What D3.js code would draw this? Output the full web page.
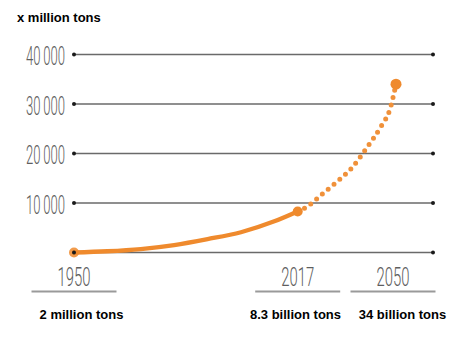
<!DOCTYPE html>
<html>
<head>
<meta charset="utf-8">
<script src="https://cdn.jsdelivr.net/npm/d3@7"></script>
<style>
  html, body { margin: 0; padding: 0; background: #fff; }
  svg { display: block; }
</style>
</head>
<body>
<div id="chart"></div>
<script>
// cumulative plastic production, million tons
const years = [1950, 1960, 1970, 1980, 1990, 2000, 2010, 2017];
const tons = [2, 250, 700, 1500, 2700, 4100, 6300, 8300];

// projection to 2050
const projYears = [2017, 2020, 2025, 2030, 2035, 2040, 2045, 2048, 2050];
const projTons = [8300, 9200, 11700, 14200, 17000, 21000, 25500, 29000, 34000];

const yTicks = [0, 10000, 20000, 30000, 40000];
const milestoneYears = [1950, 2017, 2050];
const milestoneTons = [2, 8300, 34000];
const milestoneLabels = ['2 million tons', '8.3 billion tons', '34 billion tons'];
const unitLabel = 'x million tons';

const width = 468, height = 340;
const orange = '#ef8a2d';
const gridRight = 433;

const svg = d3.select('#chart').append('svg')
    .attr('width', width)
    .attr('height', height);

const x = d3.scaleLinear()
    .domain([1950, 2017, 2050])
    .range([74, 297.7, 396]);

const y = d3.scaleLinear()
    .domain([0, 40000])
    .range([252.5, 54.5]);

const fmt = d3.formatLocale({thousands: '\u2009', grouping: [3], decimal: '.', currency: ['', '']}).format(',');

// unit title
svg.append('text')
    .attr('x', 17)
    .attr('y', 22)
    .attr('font-family', 'Liberation Sans, Arial, sans-serif')
    .attr('font-weight', 'bold')
    .attr('font-size', 13)
    .attr('fill', '#000')
    .text(unitLabel);

// horizontal grid with end dots
const grid = svg.append('g');
yTicks.forEach(t => {
    grid.append('line')
        .attr('x1', x(1950)).attr('x2', gridRight)
        .attr('y1', y(t)).attr('y2', y(t))
        .attr('stroke', '#6a6a6a')
        .attr('stroke-width', 1.3);
    [x(1950), gridRight].forEach(cx => {
        grid.append('circle')
            .attr('cx', cx).attr('cy', y(t)).attr('r', 2)
            .attr('fill', '#1a1a1a');
    });
    if (t > 0) {
        grid.append('text')
            .attr('x', 65)
            .attr('y', y(t) + 10.5)
            .attr('text-anchor', 'end')
            .attr('font-family', 'Roboto, Liberation Sans, sans-serif')
            .attr('font-weight', 300)
            .attr('font-size', 25)
            .attr('fill', '#5e5e5e')
            .attr('textLength', 39)
            .attr('lengthAdjust', 'spacingAndGlyphs')
            .text(fmt(t));
    }
});

// year labels with underlines
milestoneYears.forEach(yr => {
    const cx = Math.min(x(yr), gridRight - 40);
    svg.append('text')
        .attr('x', cx)
        .attr('y', 285.5)
        .attr('text-anchor', 'middle')
        .attr('font-family', 'Roboto, Liberation Sans, sans-serif')
        .attr('font-weight', 300)
        .attr('font-size', 25)
        .attr('fill', '#5e5e5e')
        .attr('textLength', 33)
        .attr('lengthAdjust', 'spacingAndGlyphs')
        .text(yr);
    svg.append('line')
        .attr('x1', cx - 42.5).attr('x2', cx + 42.5)
        .attr('y1', 291.5).attr('y2', 291.5)
        .attr('stroke', '#9a9a9a')
        .attr('stroke-width', 2);
});

// amount labels under the years
const labelX = [81.5, 295.5, 402.5];
milestoneLabels.forEach((s, i) => {
    svg.append('text')
        .attr('x', labelX[i])
        .attr('y', 319)
        .attr('text-anchor', 'middle')
        .attr('font-family', 'Liberation Sans, Arial, sans-serif')
        .attr('font-weight', 'bold')
        .attr('font-size', 13)
        .attr('fill', '#000')
        .text(s);
});

const line = d3.line()
    .x(d => x(d[0]))
    .y(d => y(d[1]))
    .curve(d3.curveMonotoneX);

// projected growth, dotted
svg.append('path')
    .datum(d3.zip(projYears, projTons))
    .attr('d', line)
    .attr('fill', 'none')
    .attr('stroke', '#f0913a')
    .attr('stroke-width', 5)
    .attr('stroke-linecap', 'round')
    .attr('stroke-dasharray', '0 7.6');

// historical growth, solid
svg.append('path')
    .datum(d3.zip(years, tons))
    .attr('d', line)
    .attr('fill', 'none')
    .attr('stroke', orange)
    .attr('stroke-width', 4.3)
    .attr('stroke-linecap', 'round');

// milestone markers
milestoneYears.forEach((yr, i) => {
    svg.append('circle')
        .attr('cx', x(yr)).attr('cy', y(milestoneTons[i]))
        .attr('r', i === 2 ? 5.5 : 5)
        .attr('fill', orange)
        .attr('fill-opacity', i === 0 ? 0.85 : 1);
});
svg.append('circle')
    .attr('cx', x(1950)).attr('cy', y(milestoneTons[0]))
    .attr('r', 2)
    .attr('fill', '#1a1a1a');
</script>
</body>
</html>
